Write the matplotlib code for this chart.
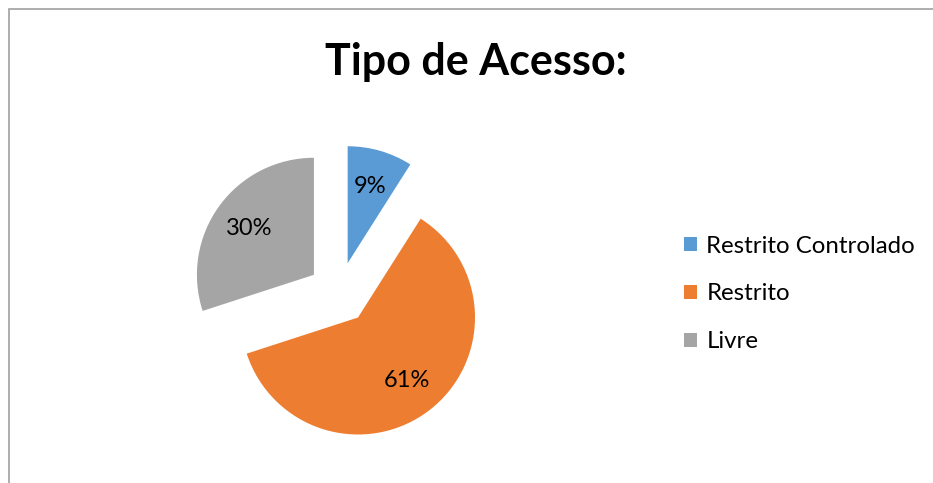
import matplotlib
matplotlib.use("Agg")
import matplotlib.pyplot as plt

# data
categories = ["Restrito Controlado", "Restrito", "Livre"]
shares = [9, 61, 30]
colors = ["#5B9BD5", "#ED7D31", "#A5A5A5"]

W, H = 933, 483
plt.rcParams['font.family'] = ['Lato', 'DejaVu Sans']

fig = plt.figure(figsize=(W / 100, H / 100), dpi=100)
ax = fig.add_axes([0, 0, 1, 1])

# pie laid out in pixel units
wedges, texts, autotexts = ax.pie(
    shares, colors=colors, startangle=90, counterclock=False,
    center=(339, H - 293), radius=117, explode=[31] * 3,
    autopct='%1.0f%%', pctdistance=0.68,
    textprops={'fontsize': 17, 'color': 'black'})
ax.set_xlim(0, W)
ax.set_ylim(0, H)
ax.set_aspect('equal')
ax.axis('off')

fig.text(476 / W, 1 - 62 / H, "Tipo de Acesso:", fontsize=31, fontweight='bold',
         ha='center', va='center')

ax.legend(wedges, categories, loc='center left',
          bbox_to_anchor=(684 / W, 1 - 294 / H), bbox_transform=fig.transFigure,
          frameon=False, fontsize=17.3, borderpad=0, borderaxespad=0,
          handlelength=0.55, handleheight=0.55, handletextpad=0.38,
          labelspacing=1.12)

# chart area border (top and left visible), drawn in pixel units
ax.plot([8.5, 8.5, W + 5], [-5, H - 9, H - 9], color='#A0A0A0', lw=1.2,
        solid_joinstyle='miter', clip_on=False)

fig.savefig("out.png", dpi=100, facecolor='white')
